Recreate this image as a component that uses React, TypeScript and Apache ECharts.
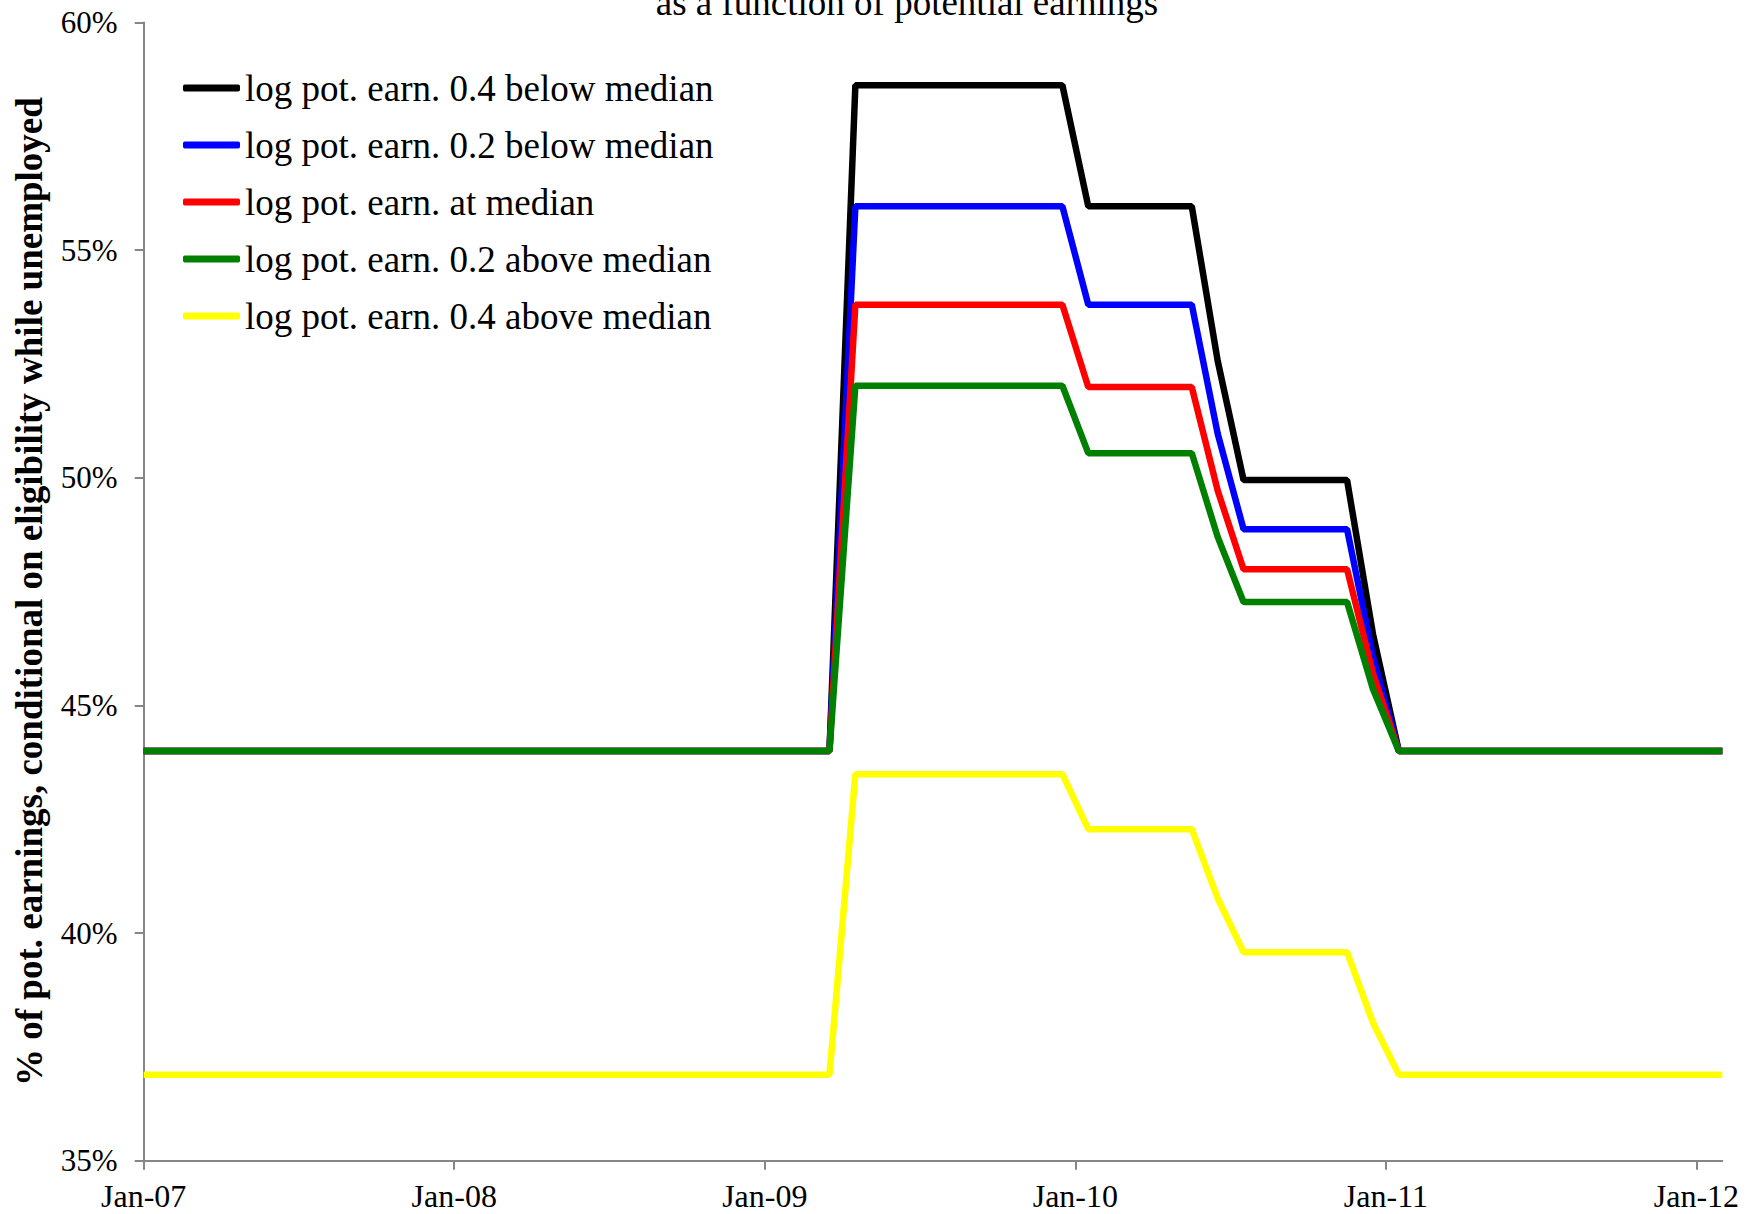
import React, { useEffect, useRef } from "react";
import * as echarts from "echarts";

// x positions: months since Jan-2007 (data points sit at mid-month)
const monthsSinceJan07 = [0, 26.5, 27.5, 35.5, 36.5, 40.5, 41.5, 42.5, 46.5, 47.5, 48.5, 61];

const seriesNames = [
  "log pot. earn. 0.4 below median",
  "log pot. earn. 0.2 below median",
  "log pot. earn. at median",
  "log pot. earn. 0.2 above median",
  "log pot. earn. 0.4 above median",
];

const below04 = [44, 44, 58.62, 58.62, 55.96, 55.96, 52.57, 49.95, 49.95, 46.57, 44, 44];
const below02 = [44, 44, 55.96, 55.96, 53.8, 53.8, 50.97, 48.87, 48.87, 46.07, 44, 44];
const atMedian = [44, 44, 53.8, 53.8, 51.99, 51.99, 49.72, 47.99, 47.99, 45.7, 44, 44];
const above02 = [44, 44, 52.02, 52.02, 50.54, 50.54, 48.7, 47.27, 47.27, 45.36, 44, 44];
const above04 = [36.89, 36.89, 43.49, 43.49, 42.28, 42.28, 40.76, 39.58, 39.58, 38.03, 36.89, 36.89];

const seriesColors = ["#000000", "#0000FF", "#FF0000", "#008000", "#FFFF00"];

const xTickPositions = [0, 12, 24, 36, 48, 60];
const xTickLabels = ["Jan-07", "Jan-08", "Jan-09", "Jan-10", "Jan-11", "Jan-12"];

const titleText = "as a function of potential earnings";
const yAxisTitle = "% of pot. earnings, conditional on eligibility while unemployed";

const FONT = '"Liberation Serif", "Times New Roman", serif';

export default function App() {
  const ref = useRef<HTMLDivElement>(null);

  useEffect(() => {
    document.body.style.margin = "0";
    if (!ref.current) return;
    const chart = echarts.init(ref.current, undefined, { renderer: "svg" });
    const allValues = [below04, below02, atMedian, above02, above04];
    const axisGray = "#868686";

    chart.setOption({
      animation: false,
      backgroundColor: "#ffffff",
      textStyle: { fontFamily: FONT },
      grid: { left: 143.7, right: 33.7, top: 22.4, bottom: 53.3, containLabel: false },
      graphic: [
        {
          type: "text",
          x: 907,
          y: 2,
          style: {
            text: titleText,
            font: `37px ${FONT}`,
            fill: "#000",
            align: "center",
            verticalAlign: "middle",
          },
        },
      ],
      legend: {
        orient: "vertical",
        left: 183,
        top: 68,
        padding: 0,
        itemWidth: 57,
        itemHeight: 7,
        itemGap: 17,
        icon: "roundRect",
        textStyle: { fontFamily: FONT, fontSize: 37, color: "#000", lineHeight: 40 },
        data: seriesNames,
      },
      xAxis: {
        type: "value",
        min: 0,
        max: 61,
        interval: 12,
        axisLine: { show: true, lineStyle: { color: axisGray, width: 2 } },
        axisTick: {
          show: true,
          length: 9,
          lineStyle: { color: axisGray, width: 2 },
          customValues: xTickPositions,
        },
        axisLabel: {
          customValues: xTickPositions,
          formatter: (v: number) => {
            const i = xTickPositions.indexOf(Math.round(v));
            return i >= 0 ? xTickLabels[i] : "";
          },
          fontFamily: FONT,
          fontSize: 32,
          color: "#000",
          margin: 19,
        },
        splitLine: { show: false },
      },
      yAxis: {
        type: "value",
        min: 35,
        max: 60,
        interval: 5,
        name: yAxisTitle,
        nameLocation: "middle",
        nameRotate: 90,
        nameGap: 96,
        nameTextStyle: { fontFamily: FONT, fontSize: 37, fontWeight: "bold", color: "#000" },
        axisLine: { show: true, lineStyle: { color: axisGray, width: 2 } },
        axisTick: { show: true, length: 9, lineStyle: { color: axisGray, width: 2 } },
        axisLabel: {
          formatter: "{value}%",
          fontFamily: FONT,
          fontSize: 31,
          color: "#000",
          margin: 26,
        },
        splitLine: { show: false },
      },
      series: seriesNames.map((name, si) => ({
        name,
        type: "line",
        symbol: "none",
        data: monthsSinceJan07.map((m, i) => [m, allValues[si][i]]),
        lineStyle: { color: seriesColors[si], width: 6.5 },
        itemStyle: { color: seriesColors[si] },
        z: 2 + si,
      })),
    });

    return () => chart.dispose();
  }, []);

  return <div ref={ref} style={{ width: 1756, height: 1214 }} />;
}
